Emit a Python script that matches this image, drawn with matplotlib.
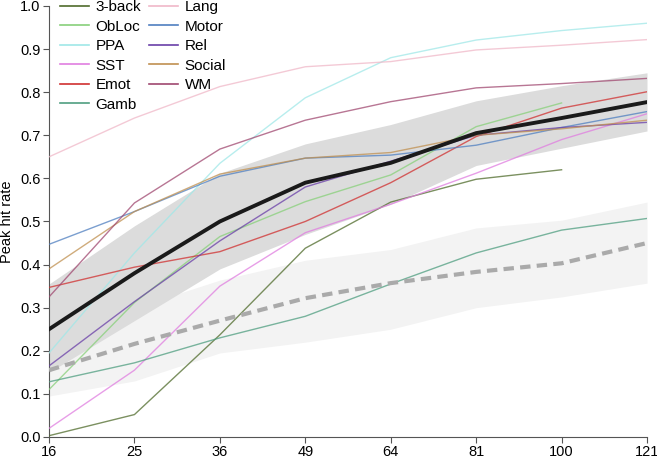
import matplotlib.pyplot as plt
from matplotlib.lines import Line2D
import numpy as np

plt.rcParams['font.family'] = ['Liberation Sans', 'DejaVu Sans']

GRID_SIZES = [16, 25, 36, 49, 64, 81, 100, 121]

TASKS = ["3-back", "ObLoc", "PPA", "SST", "Emot", "Gamb",
         "Lang", "Motor", "Rel", "Social", "WM"]

TASK_COLORS = ['#4f6b2b', '#88d07a', '#a0e8e8', '#e07ee0', '#d03030', '#4f9e80',
               '#f0b8c8', '#4f7fc0', '#6a3fa8', '#c09050', '#a04870']

# peak hit rate per task, None where the task has no value
hit_3back = [0.003, 0.052, 0.237, 0.438, 0.545, 0.598, 0.620, None]
hit_obloc = [0.110, 0.312, 0.465, 0.546, 0.608, 0.720, 0.775, None]
hit_ppa = [0.195, 0.427, 0.635, 0.787, 0.880, 0.921, 0.943, 0.960]
hit_sst = [0.020, 0.155, 0.350, 0.474, 0.540, 0.612, 0.690, 0.750]
hit_emot = [0.347, 0.394, 0.430, 0.500, 0.590, 0.697, 0.763, 0.801]
hit_gamb = [0.128, 0.172, 0.230, 0.280, 0.355, 0.427, 0.480, 0.507]
hit_lang = [0.650, 0.740, 0.813, 0.859, 0.871, 0.898, 0.909, 0.922]
hit_motor = [0.447, 0.523, 0.605, 0.647, 0.654, 0.677, 0.718, 0.755]
hit_rel = [0.165, 0.314, 0.455, 0.580, 0.640, 0.700, 0.718, 0.730]
hit_social = [0.390, 0.523, 0.610, 0.647, 0.660, 0.700, 0.715, 0.735]
hit_wm = [0.325, 0.543, 0.668, 0.735, 0.778, 0.810, 0.820, 0.832]

TASK_VALUES = [hit_3back, hit_obloc, hit_ppa, hit_sst, hit_emot, hit_gamb,
               hit_lang, hit_motor, hit_rel, hit_social, hit_wm]

mean_hit = [0.250, 0.380, 0.500, 0.590, 0.636, 0.705, 0.740, 0.777]
mean_lo = [0.150, 0.270, 0.390, 0.470, 0.540, 0.630, 0.670, 0.710]
mean_hi = [0.355, 0.490, 0.612, 0.680, 0.725, 0.780, 0.815, 0.845]

null_hit = [0.155, 0.216, 0.270, 0.322, 0.357, 0.383, 0.403, 0.450]
null_lo = [0.095, 0.130, 0.195, 0.220, 0.250, 0.300, 0.325, 0.357]
null_hi = [0.220, 0.300, 0.364, 0.410, 0.435, 0.485, 0.503, 0.545]

if __name__ == "__main__":
    x = np.sqrt(GRID_SIZES)

    fig = plt.figure(figsize=(6.57, 4.57), dpi=100)
    ax = fig.add_axes([0.0746, 0.0438, 0.9102, 0.9431])

    ax.fill_between(x, null_lo, null_hi, color='#f3f3f3', lw=0, zorder=1)
    ax.fill_between(x, mean_lo, mean_hi, color='#dcdcdc', lw=0, zorder=2)

    for name, vals, col in zip(TASKS, TASK_VALUES, TASK_COLORS):
        v = np.array([np.nan if a is None else a for a in vals])
        ax.plot(x, v, color=col, lw=1.0, alpha=0.75, zorder=3)

    ax.plot(x, null_hit, color='#aaaaaa', lw=3, ls=(0, (2.5, 1.5)), zorder=4)
    ax.plot(x, mean_hit, color='#1a1a1a', lw=2.8, zorder=5)

    handles = [Line2D([0], [0], color=c, lw=1.2) for c in TASK_COLORS]
    ax.legend(handles, TASKS, ncol=2, loc='upper left', frameon=False,
              fontsize=11, handlelength=1.9, handletextpad=0.45,
              columnspacing=0.5, labelspacing=0.36,
              bbox_to_anchor=(-0.005, 1.045))

    ax.set_xlim(x[0], x[-1])
    ax.set_ylim(0, 1.0)
    ax.set_xticks(x)
    ax.set_xticklabels([str(g) for g in GRID_SIZES])
    ax.set_yticks(np.arange(0, 1.01, 0.1))
    ax.set_yticklabels(['%.1f' % t for t in np.arange(0, 1.01, 0.1)])
    ax.set_ylabel('Peak hit rate', fontsize=10.5)
    ax.yaxis.set_label_coords(-0.058, 0.5)

    for s in ['top', 'right']:
        ax.spines[s].set_visible(False)
    for s in ['left', 'bottom']:
        ax.spines[s].set_color('#555555')
        ax.spines[s].set_linewidth(0.8)
    ax.tick_params(direction='out', length=4, width=0.8, color='#555555',
                   labelsize=10.5, pad=2)

    fig.savefig('out.png', dpi=100)
